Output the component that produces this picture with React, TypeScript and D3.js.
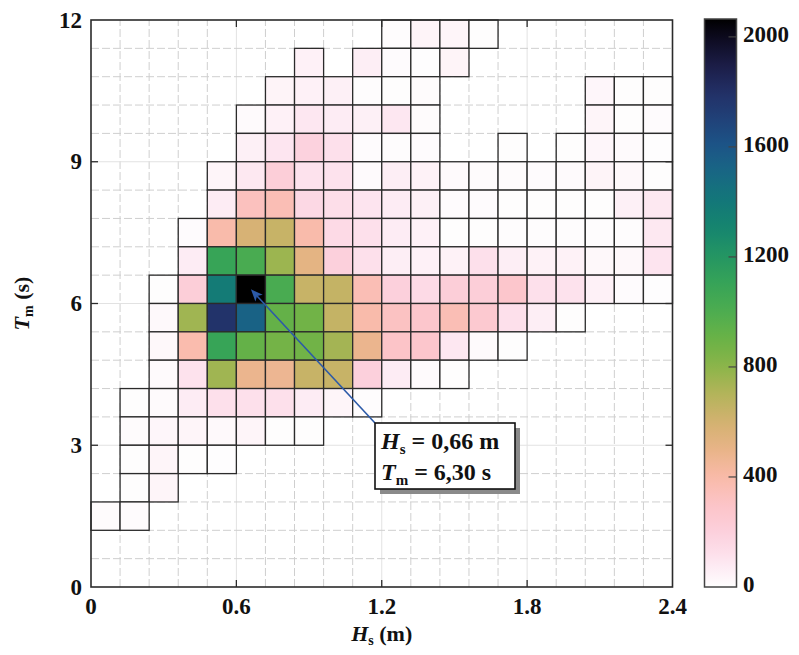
import React from "react";
import * as d3 from "d3";

// Hs bin starts (m), bin width 0.12
const hsBins = [0, 0.12, 0.24, 0.36, 0.48, 0.6, 0.72, 0.84, 0.96, 1.08, 1.2, 1.32, 1.44, 1.56, 1.68, 1.8, 1.92, 2.04, 2.16, 2.28];
// Tm bin starts (s), bin height 0.6, top row first
const tmBins = [11.4, 10.8, 10.2, 9.6, 9.0, 8.4, 7.8, 7.2, 6.6, 6.0, 5.4, 4.8, 4.2, 3.6, 3.0, 2.4, 1.8, 1.2, 0.6, 0.0];
const hsStep = 0.12;
const tmStep = 0.6;

// occurrence counts (0 = no observation), one row per Tm bin
const row00 = [0, 0, 0, 0, 0, 0, 0, 0, 0, 0, 8, 40, 35, 5, 0, 0, 0, 0, 0, 0];
const row01 = [0, 0, 0, 0, 0, 0, 0, 50, 0, 60, 10, 3, 40, 0, 0, 0, 0, 0, 0, 0];
const row02 = [0, 0, 0, 0, 0, 0, 40, 50, 55, 8, 5, 12, 0, 0, 0, 0, 0, 30, 5, 5];
const row03 = [0, 0, 0, 0, 0, 15, 50, 90, 70, 55, 90, 12, 0, 0, 0, 0, 0, 35, 5, 10];
const row04 = [0, 0, 0, 0, 0, 55, 95, 190, 120, 10, 8, 10, 0, 0, 5, 0, 5, 30, 15, 3];
const row05 = [0, 0, 0, 0, 35, 85, 220, 110, 110, 15, 60, 45, 15, 12, 12, 10, 15, 40, 25, 5];
const row06 = [0, 0, 0, 0, 70, 330, 360, 160, 130, 100, 70, 55, 10, 10, 5, 5, 5, 5, 55, 85];
const row07 = [0, 0, 0, 10, 390, 580, 640, 390, 150, 120, 70, 50, 5, 5, 8, 8, 8, 8, 8, 85];
const row08 = [0, 0, 0, 70, 1100, 1020, 760, 520, 200, 120, 60, 50, 45, 120, 60, 45, 45, 25, 25, 100];
const row09 = [0, 0, 5, 220, 1380, 2065, 1020, 640, 650, 360, 200, 150, 220, 220, 280, 120, 110, 50, 10, 3];
const row10 = [0, 0, 20, 750, 1780, 1530, 920, 880, 650, 390, 320, 280, 360, 260, 120, 60, 5, 0, 0, 0];
const row11 = [0, 0, 25, 380, 1100, 920, 870, 880, 740, 480, 300, 280, 90, 15, 5, 0, 0, 0, 0, 0];
const row12 = [0, 0, 15, 110, 750, 480, 470, 640, 640, 200, 70, 15, 5, 0, 0, 0, 0, 0, 0, 0];
const row13 = [0, 5, 15, 70, 120, 120, 120, 70, 35, 8, 0, 0, 0, 0, 0, 0, 0, 0, 0, 0];
const row14 = [0, 12, 30, 35, 20, 35, 5, 5, 0, 0, 0, 0, 0, 0, 0, 0, 0, 0, 0, 0];
const row15 = [0, 5, 35, 5, 3, 0, 0, 0, 0, 0, 0, 0, 0, 0, 0, 0, 0, 0, 0, 0];
const row16 = [0, 5, 35, 0, 0, 0, 0, 0, 0, 0, 0, 0, 0, 0, 0, 0, 0, 0, 0, 0];
const row17 = [12, 10, 0, 0, 0, 0, 0, 0, 0, 0, 0, 0, 0, 0, 0, 0, 0, 0, 0, 0];
const row18 = [0, 0, 0, 0, 0, 0, 0, 0, 0, 0, 0, 0, 0, 0, 0, 0, 0, 0, 0, 0];
const row19 = [0, 0, 0, 0, 0, 0, 0, 0, 0, 0, 0, 0, 0, 0, 0, 0, 0, 0, 0, 0];
const counts = [row00, row01, row02, row03, row04, row05, row06, row07, row08, row09, row10, row11, row12, row13, row14, row15, row16, row17, row18, row19];

const xTicks = [0, 0.6, 1.2, 1.8, 2.4];
const yTicks = [0, 3, 6, 9, 12];
const cbTicks = [0, 400, 800, 1200, 1600, 2000];
const cbMax = 2065;

const peakHs = 0.66;
const peakTm = 6.3;
const annotLine1 = "0,66 m";
const annotLine2 = "6,30 s";

const colorDomain = [0, 100, 200, 300, 400, 500, 600, 700, 800, 900, 1000, 1100, 1200, 1300, 1400, 1500, 1600, 1700, 1800, 1900, 2000, 2065];
const colorRange = ["#fefefe", "#fde4ef", "#fcd0dc", "#fcc4c8", "#f9baa8", "#e8b488", "#d3b270", "#b4b45a", "#8cb54a", "#6ab246", "#4dad50", "#37a457", "#259662", "#16866e", "#137878", "#186884", "#1c5587", "#204279", "#222f66", "#1b1c45", "#0c0a1e", "#000000"];

const FONT = "'Liberation Serif', 'DejaVu Serif', serif";

export default function App() {
  const W = 799, H = 655;
  const x = d3.scaleLinear().domain([0, 2.4]).range([91, 672.5]);
  const y = d3.scaleLinear().domain([0, 12]).range([587, 20]);
  const color = d3.scaleLinear<string>().domain(colorDomain).range(colorRange).interpolate(d3.interpolateRgb).clamp(true);
  const cb = d3.scaleLinear().domain([0, cbMax]).range([587, 19]);
  const cbX0 = 704.5, cbX1 = 736.5;

  const gridX = hsBins.slice(1);
  const gridY = tmBins.slice(0, -1);
  const isMajorX = (v: number) => xTicks.some(t => Math.abs(t - v) < 1e-6);
  const isMajorY = (v: number) => yTicks.some(t => Math.abs(t - v) < 1e-6);

  const cells: { hs: number; tm: number; v: number }[] = [];
  counts.forEach((row, r) => row.forEach((v, c) => { if (v > 0) cells.push({ hs: hsBins[c], tm: tmBins[r], v }); }));

  const gradStops = d3.range(0, 1.0001, 0.02).map(t => ({ off: t, c: color(t * cbMax) }));

  const boxX = 375, boxY = 423, boxW = 140, boxH = 66;
  const ax = x(peakHs), ay = y(peakTm);
  const ang = Math.atan2(ay - boxY, ax - boxX);
  const hl = 12, hw = 5;
  const head = [
    [ax, ay],
    [ax - hl * Math.cos(ang) + hw * Math.sin(ang), ay - hl * Math.sin(ang) - hw * Math.cos(ang)],
    [ax - hl * 0.75 * Math.cos(ang), ay - hl * 0.75 * Math.sin(ang)],
    [ax - hl * Math.cos(ang) - hw * Math.sin(ang), ay - hl * Math.sin(ang) + hw * Math.cos(ang)],
  ];

  return (
    <>
      <style>{"body{margin:0;}"}</style>
      <svg width={W} height={H} style={{ display: "block", background: "#fff" }} fontFamily={FONT}>
        <defs>
          <linearGradient id="cbgrad" x1="0" y1="1" x2="0" y2="0">
            {gradStops.map((s, i) => <stop key={i} offset={s.off} stopColor={s.c} />)}
          </linearGradient>
        </defs>
        {/* grid */}
        {gridX.map((v, i) => (
          <line key={"gx" + i} x1={x(v)} x2={x(v)} y1={y(0)} y2={y(12)}
            stroke={isMajorX(v) ? "#e2e2e2" : "#cfcfcf"} strokeWidth={1}
            strokeDasharray={isMajorX(v) ? undefined : "8 3"} />
        ))}
        {gridY.map((v, i) => (
          <line key={"gy" + i} y1={y(v)} y2={y(v)} x1={x(0)} x2={x(2.4)}
            stroke={isMajorY(v) ? "#e2e2e2" : "#cfcfcf"} strokeWidth={1}
            strokeDasharray={isMajorY(v) ? undefined : "8 3"} />
        ))}
        {/* cells */}
        {cells.map((d, i) => (
          <rect key={"c" + i} x={x(d.hs)} y={y(d.tm + tmStep)} width={x(d.hs + hsStep) - x(d.hs)} height={y(d.tm) - y(d.tm + tmStep)}
            fill={color(d.v)} stroke="#2b2b2b" strokeWidth={1.3} />
        ))}
        {/* frame */}
        <rect x={x(0)} y={y(12)} width={x(2.4) - x(0)} height={y(0) - y(12)} fill="none" stroke="#2b2b2b" strokeWidth={1.6} />
        {xTicks.slice(1, -1).map((t, i) => (
          <g key={"xt" + i}>
            <line x1={x(t)} x2={x(t)} y1={y(0)} y2={y(0) - 7} stroke="#2b2b2b" strokeWidth={1.3} />
            <line x1={x(t)} x2={x(t)} y1={y(12)} y2={y(12) + 7} stroke="#2b2b2b" strokeWidth={1.3} />
          </g>
        ))}
        {yTicks.slice(1, -1).map((t, i) => (
          <g key={"yt" + i}>
            <line y1={y(t)} y2={y(t)} x1={x(0)} x2={x(0) + 7} stroke="#2b2b2b" strokeWidth={1.3} />
            <line y1={y(t)} y2={y(t)} x1={x(2.4)} x2={x(2.4) - 7} stroke="#2b2b2b" strokeWidth={1.3} />
          </g>
        ))}
        {/* tick labels */}
        {xTicks.map((t, i) => (
          <text key={"xl" + i} x={x(t)} y={614} textAnchor="middle" fontSize={23} fontWeight="bold" fill="#111">{String(t)}</text>
        ))}
        {yTicks.map((t, i) => (
          <text key={"yl" + i} x={82} y={y(t) + 7.5} textAnchor="end" fontSize={23} fontWeight="bold" fill="#111">{String(t)}</text>
        ))}
        {/* axis titles */}
        <text x={(x(0) + x(2.4)) / 2} y={641} textAnchor="middle" fontSize={22} fontWeight="bold" fill="#111">
          <tspan fontStyle="italic">H</tspan><tspan fontSize={14} dy={4}>s</tspan><tspan dy={-4}> (m)</tspan>
        </text>
        <text transform={`translate(29, ${(y(0) + y(12)) / 2}) rotate(-90)`} textAnchor="middle" fontSize={22} fontWeight="bold" fill="#111">
          <tspan fontStyle="italic">T</tspan><tspan fontSize={14} dy={4}>m</tspan><tspan dy={-4}> (s)</tspan>
        </text>
        {/* colorbar */}
        <rect x={cbX0} y={cb(cbMax)} width={cbX1 - cbX0} height={cb(0) - cb(cbMax)} fill="url(#cbgrad)" stroke="#444" strokeWidth={1.5} />
        {cbTicks.map((t, i) => (
          <g key={"cb" + i}>
            {t > 0 && <line x1={cbX1} x2={cbX1 - 8} y1={cb(t)} y2={cb(t)} stroke="#444" strokeWidth={1.2} />}
            <text x={743} y={cb(t) + 5} fontSize={23} fontWeight="bold" fill="#111">{String(t)}</text>
          </g>
        ))}
        {/* annotation */}
        <line x1={boxX} y1={boxY} x2={head[2][0]} y2={head[2][1]} stroke="#2c5aa8" strokeWidth={1.6} />
        <polygon points={head.map(p => p.join(",")).join(" ")} fill="#2c5aa8" />
        <rect x={boxX + 5} y={boxY + 5} width={boxW} height={boxH} fill="#8a8a8a" />
        <rect x={boxX} y={boxY} width={boxW} height={boxH} fill="#fff" stroke="#111" strokeWidth={1.6} />
        <text x={boxX + 6} y={boxY + 26} fontSize={24} fontWeight="bold" fill="#111">
          <tspan fontStyle="italic">H</tspan><tspan fontSize={15} dy={5}>s</tspan><tspan dy={-5}> = {annotLine1}</tspan>
        </text>
        <text x={boxX + 6} y={boxY + 57} fontSize={24} fontWeight="bold" fill="#111">
          <tspan fontStyle="italic">T</tspan><tspan fontSize={15} dy={5}>m</tspan><tspan dy={-5}> = {annotLine2}</tspan>
        </text>
      </svg>
    </>
  );
}
